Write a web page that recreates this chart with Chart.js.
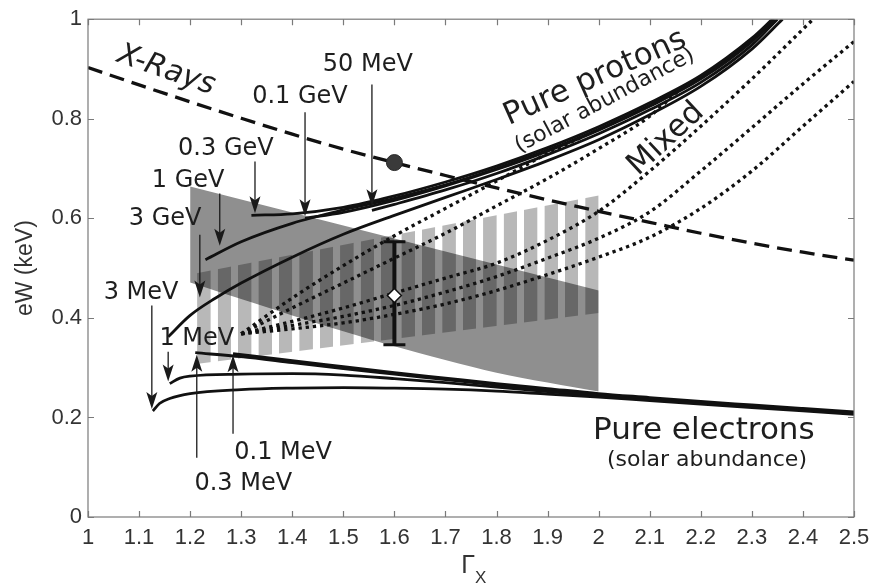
<!DOCTYPE html>
<html>
<head>
<meta charset="utf-8">
<script src="https://cdn.jsdelivr.net/npm/chart.js@4.4.1/dist/chart.umd.min.js"></script>
<style>
  html, body { margin: 0; padding: 0; background: #fff; }
</style>
</head>
<body>
<canvas id="chart" width="881" height="587"></canvas>
<script>
// ---- values (x = Gamma_X, y = eW in keV) ----
const xRays = [[1.0,0.903],[1.1,0.868],[1.2,0.834],[1.3,0.801],[1.4,0.769],[1.5,0.739],[1.6,0.712],[1.7,0.686],
  [1.8,0.661],[1.9,0.637],[2.0,0.614],[2.1,0.592],[2.2,0.570],[2.3,0.550],[2.4,0.532],[2.5,0.516]];

const protons03GeV = [[1.32,0.606],[1.4,0.609],[1.5,0.622],[1.6,0.645],[1.7,0.673],[1.8,0.705],[1.9,0.742],
  [2.0,0.784],[2.1,0.832],[2.2,0.887],[2.3,0.962],[2.34,1.0]];
const protons01GeV = [[1.425,0.600],[1.5,0.612],[1.6,0.636],[1.7,0.665],[1.8,0.698],[1.9,0.735],[2.0,0.777],
  [2.1,0.825],[2.2,0.880],[2.3,0.955],[2.345,1.0]];
const protons50MeV = [[1.556,0.616],[1.6,0.628],[1.7,0.657],[1.8,0.690],[1.9,0.728],[2.0,0.770],[2.1,0.818],
  [2.2,0.873],[2.3,0.948],[2.35,1.0]];
const protons1GeV = [[1.23,0.517],[1.3,0.553],[1.4,0.590],[1.5,0.617],[1.6,0.640],[1.7,0.667],[1.8,0.700],
  [1.9,0.737],[2.0,0.779],[2.1,0.827],[2.2,0.882],[2.3,0.958],[2.342,1.0]];
const protons3GeV = [[1.157,0.362],[1.2,0.405],[1.25,0.440],[1.3,0.470],[1.4,0.522],[1.5,0.568],[1.6,0.606],
  [1.7,0.642],[1.8,0.678],[1.9,0.716],[2.0,0.758],[2.1,0.808],[2.2,0.865],[2.3,0.940],[2.36,1.0]];

const electrons3MeV = [[1.127,0.213],[1.14,0.228],[1.16,0.238],[1.2,0.248],[1.3,0.256],[1.4,0.259],[1.5,0.260],
  [1.6,0.259],[1.7,0.257],[1.8,0.253],[1.9,0.247],[2.0,0.241],[2.1,0.234],[2.2,0.227],[2.3,0.220],[2.4,0.213],[2.5,0.206]];
const electrons1MeV = [[1.16,0.268],[1.18,0.279],[1.2,0.283],[1.3,0.287],[1.4,0.288],[1.5,0.285],[1.6,0.278],
  [1.7,0.270],[1.8,0.261],[1.9,0.252],[2.0,0.244],[2.1,0.236],[2.2,0.229],[2.3,0.222],[2.4,0.215],[2.5,0.208]];
const electrons03MeV = [[1.21,0.330],[1.3,0.322],[1.4,0.310],[1.5,0.298],[1.6,0.287],[1.7,0.276],[1.8,0.265],
  [1.9,0.255],[2.0,0.246],[2.1,0.238],[2.2,0.230],[2.3,0.223],[2.4,0.216],[2.5,0.209]];
const electrons01MeV = [[1.284,0.328],[1.4,0.314],[1.5,0.302],[1.6,0.290],[1.7,0.279],[1.8,0.268],[1.9,0.258],
  [2.0,0.248],[2.1,0.240],[2.2,0.232],[2.3,0.225],[2.4,0.218],[2.5,0.211]];

const mixedA = [[1.3,0.368],[1.4,0.440],[1.5,0.505],[1.6,0.565],[1.7,0.620],[1.8,0.675],[1.9,0.730],[1.97,0.765]];
const mixedB = [[1.3,0.368],[1.4,0.420],[1.5,0.470],[1.6,0.520],[1.7,0.570],[1.8,0.625],[1.9,0.680],[2.0,0.740],
  [2.1,0.805],[2.16,0.860]];
const mixedC = [[1.3,0.368],[1.4,0.393],[1.5,0.420],[1.6,0.450],[1.7,0.480],[1.8,0.510],[1.9,0.556],[2.0,0.614],
  [2.1,0.695],[2.2,0.785],[2.3,0.880],[2.42,1.0]];
const mixedD = [[1.3,0.368],[1.4,0.385],[1.5,0.403],[1.6,0.425],[1.7,0.452],[1.8,0.483],[1.9,0.520],[2.0,0.560],
  [2.1,0.613],[2.2,0.695],[2.3,0.782],[2.4,0.870],[2.5,0.955]];
const mixedE = [[1.3,0.368],[1.4,0.378],[1.5,0.390],[1.6,0.407],[1.7,0.428],[1.8,0.455],[1.9,0.487],[2.0,0.522],
  [2.1,0.562],[2.2,0.620],[2.3,0.695],[2.4,0.785],[2.5,0.875]];

// shaded regions
const solidTop = [[1.2,0.664],[2.0,0.455]];
const solidBottom = [[1.2,0.471],[1.4,0.405],[1.6,0.343],[1.8,0.290],[2.0,0.252]];
const stripedTop = [[1.2,0.487],[2.0,0.646]];
const stripedBottom = [[1.2,0.306],[2.0,0.410]];

// measurement and X-ray point
const measX = 1.6, measY = 0.445, measLow = 0.346, measHigh = 0.553;
const xrayDot = [1.6, 0.712];

// energy arrows: x, tail y, tip y
const arrowX    = [1.556, 1.425, 1.327, 1.258, 1.219, 1.125, 1.157, 1.213, 1.284];
const arrowFrom = [0.869, 0.813, 0.714, 0.650, 0.567, 0.425, 0.332, 0.119, 0.167];
const arrowTo   = [0.624, 0.604, 0.610, 0.545, 0.441, 0.217, 0.272, 0.326, 0.325];

const xTicks = [1, 2.5, 0.1];
const yTicks = [0, 1, 0.2];

// text notes placed in data coordinates
const notes = [
  { text: 'X-Rays', x: 1.153, y: 0.897, rot: 19, size: 30, italic: true },
  { text: '50 MeV', x: 1.548, y: 0.909, size: 24 },
  { text: '0.1 GeV', x: 1.415, y: 0.845, size: 24 },
  { text: '0.3 GeV', x: 1.270, y: 0.740, size: 24 },
  { text: '1 GeV', x: 1.196, y: 0.676, size: 24 },
  { text: '3 GeV', x: 1.151, y: 0.600, size: 24 },
  { text: '3 MeV', x: 1.104, y: 0.451, size: 24 },
  { text: '1 MeV', x: 1.213, y: 0.358, size: 24 },
  { text: '0.1 MeV', x: 1.382, y: 0.129, size: 24 },
  { text: '0.3 MeV', x: 1.304, y: 0.066, size: 24 },
  { text: 'Pure protons', x: 1.993, y: 0.882, rot: -24, size: 31 },
  { text: '(solar abundance)', x: 2.012, y: 0.836, rot: -28, size: 22 },
  { text: 'Mixed', x: 2.132, y: 0.759, rot: -43, size: 31 },
  { text: 'Pure electrons', x: 2.206, y: 0.173, size: 31 },
  { text: '(solar abundance)', x: 2.212, y: 0.113, size: 22 }
];

// stripe pattern spacing (in Gamma units)
const stripeStart = 1.214, stripePeriod = 0.04, stripeBar = 0.026;

const pts = (arr) => arr.map(([x, y]) => ({ x, y }));

function stripePattern(chart) {
  const xs = chart.scales && chart.scales.x;
  if (!xs || !(xs.width > 0)) return 'rgba(0,0,0,0.28)';
  const c = document.createElement('canvas');
  c.width = 40; c.height = 4;
  const g = c.getContext('2d');
  g.fillStyle = 'rgba(0,0,0,0.28)';
  g.fillRect(0, 0, 40 * stripeBar / stripePeriod, 4);
  const p = chart.ctx.createPattern(c, 'repeat');
  const x0 = xs.getPixelForValue(stripeStart);
  const per = xs.getPixelForValue(stripeStart + stripePeriod) - x0;
  p.setTransform(new DOMMatrix([per / 40, 0, 0, 1, x0, 0]));
  return p;
}

const solidCurve = (arr) => ({
  data: pts(arr), borderColor: '#111', borderWidth: 2.8, pointRadius: 0,
  cubicInterpolationMode: 'monotone', order: 5
});
const dottedCurve = (arr) => ({
  data: pts(arr), borderColor: '#111', borderWidth: 3.3, borderDash: [3.3, 3.9], pointRadius: 0,
  cubicInterpolationMode: 'monotone', order: 6
});

const datasets = [
  // 0,1 : solid grey band
  { data: pts(solidTop), borderWidth: 0, pointRadius: 0, fill: '+1', backgroundColor: '#8f8f8f', order: 20 },
  { data: pts(solidBottom), borderWidth: 0, pointRadius: 0, fill: false, tension: 0.3, order: 20 },
  // 2,3 : striped band
  { data: pts(stripedTop), borderWidth: 0, pointRadius: 0, fill: '+1',
    backgroundColor: (ctx) => stripePattern(ctx.chart), order: 19 },
  { data: pts(stripedBottom), borderWidth: 0, pointRadius: 0, fill: false, order: 19 },
  solidCurve(protons03GeV), solidCurve(protons01GeV), solidCurve(protons50MeV),
  solidCurve(protons1GeV), solidCurve(protons3GeV),
  solidCurve(electrons3MeV), solidCurve(electrons1MeV), solidCurve(electrons03MeV), solidCurve(electrons01MeV),
  dottedCurve(mixedA), dottedCurve(mixedB), dottedCurve(mixedC), dottedCurve(mixedD), dottedCurve(mixedE),
  // X-ray dashed line
  { data: pts(xRays), borderColor: '#111', borderWidth: 3.3, borderDash: [15, 8], pointRadius: 0,
    cubicInterpolationMode: 'monotone', order: 4 },
  // error bar
  { data: [{ x: measX, y: measLow }, { x: measX, y: measHigh }], borderColor: '#111', borderWidth: 4,
    pointStyle: 'line', pointRadius: 11, pointBorderWidth: 3, pointBorderColor: '#111', order: 3 },
  // measured point (diamond)
  { data: [{ x: measX, y: measY }], showLine: false, pointStyle: 'rectRot', pointRadius: 7,
    pointBackgroundColor: '#fff', pointBorderColor: '#111', pointBorderWidth: 1.5, order: 2 },
  // X-ray dot
  { data: [{ x: xrayDot[0], y: xrayDot[1] }], showLine: false, pointStyle: 'circle', pointRadius: 8,
    pointBackgroundColor: '#3a3a3a', pointBorderColor: '#2a2a2a', pointBorderWidth: 1, order: 2 }
];

// box with inward ticks on all four sides
const framePlugin = {
  id: 'frame',
  afterDatasetsDraw(chart) {
    const { ctx, chartArea: a, scales: { x, y } } = chart;
    ctx.save();
    ctx.strokeStyle = '#7a7a7a';
    ctx.lineWidth = 1.2;
    ctx.strokeRect(a.left, a.top, a.right - a.left, a.bottom - a.top);
    ctx.beginPath();
    x.ticks.forEach((t) => {
      const px = Math.round(x.getPixelForValue(t.value)) + 0.5;
      ctx.moveTo(px, a.bottom); ctx.lineTo(px, a.bottom - 6);
      ctx.moveTo(px, a.top); ctx.lineTo(px, a.top + 6);
    });
    y.ticks.forEach((t) => {
      const py = Math.round(y.getPixelForValue(t.value)) + 0.5;
      ctx.moveTo(a.left, py); ctx.lineTo(a.left + 6, py);
      ctx.moveTo(a.right, py); ctx.lineTo(a.right - 6, py);
    });
    ctx.stroke();
    ctx.restore();
  }
};

// arrows pointing at the start of each curve
const arrowPlugin = {
  id: 'arrows',
  afterDatasetsDraw(chart) {
    const { ctx, scales: { x, y } } = chart;
    ctx.save();
    ctx.strokeStyle = '#1a1a1a';
    ctx.fillStyle = '#1a1a1a';
    ctx.lineWidth = 1.3;
    arrowX.forEach((v, i) => {
      const px = x.getPixelForValue(v);
      const y0 = y.getPixelForValue(arrowFrom[i]);
      const y1 = y.getPixelForValue(arrowTo[i]);
      const dir = Math.sign(y1 - y0);
      ctx.beginPath();
      ctx.moveTo(px, y0);
      ctx.lineTo(px, y1 - dir * 10);
      ctx.stroke();
      ctx.beginPath();
      ctx.moveTo(px, y1);
      ctx.lineTo(px - 5.5, y1 - dir * 17);
      ctx.lineTo(px, y1 - dir * 13);
      ctx.lineTo(px + 5.5, y1 - dir * 17);
      ctx.closePath();
      ctx.fill();
    });
    ctx.restore();
  }
};

// text notes and axis titles
const textPlugin = {
  id: 'notes',
  afterDraw(chart) {
    const { ctx, chartArea: a, scales: { x, y } } = chart;
    ctx.save();
    ctx.fillStyle = '#1e1e1e';
    ctx.textAlign = 'center';
    ctx.textBaseline = 'middle';
    notes.forEach((n) => {
      ctx.save();
      ctx.translate(x.getPixelForValue(n.x), y.getPixelForValue(n.y));
      ctx.rotate(((n.rot || 0) * Math.PI) / 180);
      ctx.font = (n.italic ? 'oblique ' : '') + n.size + 'px "DejaVu Sans", Verdana, sans-serif';
      ctx.fillText(n.text, 0, 0);
      ctx.restore();
    });
    // x title: Gamma with subscript X
    const cx = (a.left + a.right) / 2;
    ctx.fillStyle = '#333';
    ctx.font = '25px "Liberation Sans", Arial, sans-serif';
    ctx.textAlign = 'right';
    ctx.fillText('\u0393', cx + 4, 566);
    ctx.textAlign = 'left';
    ctx.font = '17px "Liberation Sans", Arial, sans-serif';
    ctx.fillText('X', cx + 4, 578);
    // y title
    ctx.save();
    ctx.translate(26, (a.top + a.bottom) / 2);
    ctx.rotate(-Math.PI / 2);
    ctx.textAlign = 'center';
    ctx.font = '23px "Liberation Sans", Arial, sans-serif';
    ctx.fillText('eW (keV)', 0, 0);
    ctx.restore();
    ctx.restore();
  }
};

const fmt = (v) => String(+Number(v).toFixed(1));

new Chart(document.getElementById('chart'), {
  type: 'line',
  data: { datasets },
  options: {
    responsive: false,
    devicePixelRatio: 1,
    animation: false,
    events: [],
    layout: { padding: { left: 0, right: 27, top: 14, bottom: 0 } },
    plugins: { legend: { display: false }, tooltip: { enabled: false } },
    scales: {
      x: {
        type: 'linear', min: xTicks[0], max: xTicks[1],
        grid: { display: false, drawTicks: false }, border: { display: false },
        ticks: { stepSize: xTicks[2], autoSkip: false, maxRotation: 0, padding: 8, color: '#333',
          font: { family: '"Liberation Sans", Arial, sans-serif', size: 22 }, callback: fmt },
        afterFit: (s) => { s.height = 70; }
      },
      y: {
        type: 'linear', min: yTicks[0], max: yTicks[1],
        grid: { display: false, drawTicks: false }, border: { display: false },
        ticks: { stepSize: yTicks[2], padding: 6, color: '#333',
          font: { family: '"Liberation Sans", Arial, sans-serif', size: 22 }, callback: fmt },
        afterFit: (s) => { s.width = 88; }
      }
    }
  },
  plugins: [framePlugin, arrowPlugin, textPlugin]
});
</script>
</body>
</html>
